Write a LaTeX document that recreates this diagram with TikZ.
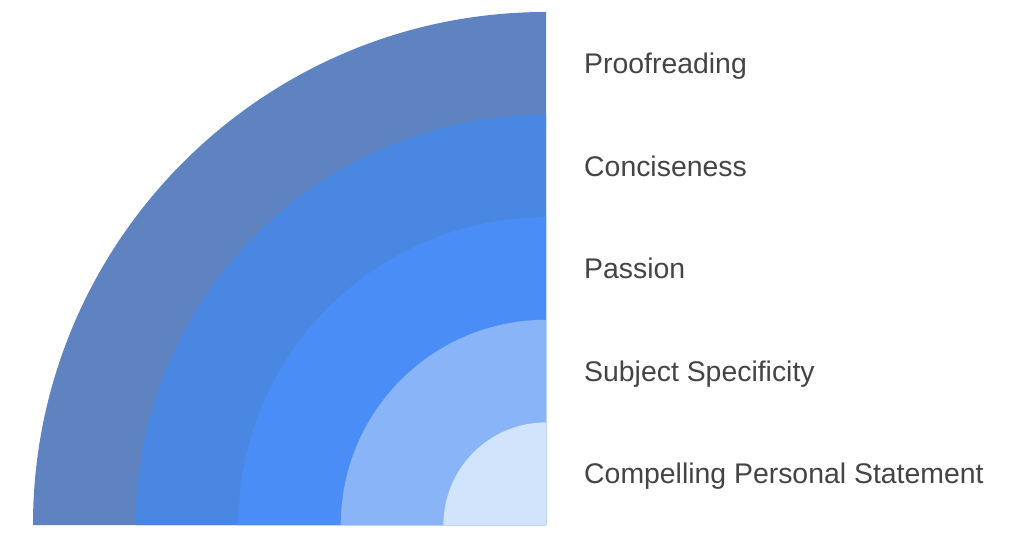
\documentclass[tikz,border=0pt]{standalone}
\usepackage{fontspec}
\setmainfont{Liberation Sans}

\definecolor{ringfive}{HTML}{5E83C0}
\definecolor{ringfour}{HTML}{4A87E2}
\definecolor{ringthree}{HTML}{4A8DF7}
\definecolor{ringtwo}{HTML}{8AB4F8}
\definecolor{ringone}{HTML}{D2E3FC}
\definecolor{textgray}{HTML}{444444}

\begin{document}
\begin{tikzpicture}[x = 1pt, y = 1pt, font = \fontsize{28.4}{34}\selectfont,
        label/.style = {anchor = base west, text = textgray, inner sep = 0pt}]
        \useasboundingbox (0,0) rectangle (1024,536);

        \fill [ringfive]
        (546,11) -- (33,11) arc (180:90:513) -- cycle;

        \fill [ringfour]
        (546,11) -- (135.6,11) arc (180:90:410.4) -- cycle;

        \fill [ringthree]
        (546,11) -- (238.2,11) arc (180:90:307.8) -- cycle;

        \fill [ringtwo]
        (546,11) -- (340.8,11) arc (180:90:205.2) -- cycle;

        \fill [ringone]
        (546,11) -- (443.4,11) arc (180:90:102.6) -- cycle;

        \node [label] (proof) at (584,462.5) {Proofreading};
        \node [label] (concise) at (584,359.9) {Conciseness};
        \node [label] (passion) at (584,257.3) {Passion};
        \node [label] (subject) at (584,154.7) {Subject Specificity};
        \node [label] (statement) at (584,52.1) {Compelling Personal Statement};
    \end{tikzpicture}
\end{document}
